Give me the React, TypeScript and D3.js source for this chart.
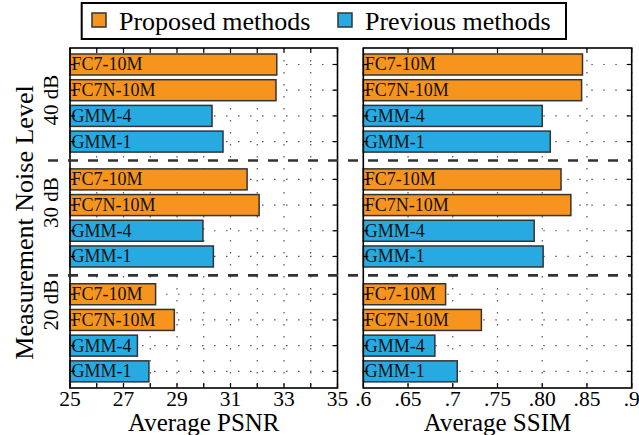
import React from "react";
import * as d3 from "d3";

// chart values
const noiseLevels = ["40 dB", "30 dB", "20 dB"];
const methods = ["FC7-10M", "FC7N-10M", "GMM-4", "GMM-1"];
const methodGroup = ["Proposed", "Proposed", "Previous", "Previous"];
const legendItems = ["Proposed methods", "Previous methods"];

// one row per noise level, in the order of `methods`
const psnrValues = [
  [32.73, 32.7, 30.31, 30.72],
  [31.62, 32.07, 29.97, 30.36],
  [28.2, 28.9, 27.52, 27.95],
];
const ssimValues = [
  [0.845, 0.844, 0.8, 0.809],
  [0.821, 0.832, 0.791, 0.801],
  [0.692, 0.732, 0.68, 0.705],
];

const psnrTicks = [25, 27, 29, 31, 33, 35];
const psnrMinor = d3.range(25, 36, 1);
const ssimTicks = [0.6, 0.65, 0.7, 0.75, 0.8, 0.85, 0.9];
const ssimTickLabels = [".6", ".65", ".7", ".75", ".80", ".85", ".9"];

const FONT = "'Liberation Serif', 'DejaVu Serif', serif";
const colors = { Proposed: "#F7941E", Previous: "#27AAE1" };
const W = 639;
const H = 435;
const TOP = 48;
const BOTTOM = 388;
const GROUP_STEP = 4.47;

// bar slot position -> pixel
const y = d3.scaleLinear().domain([-0.642, 12.588]).range([TOP, BOTTOM]);
const slot = (g: number, i: number) => g * GROUP_STEP + i;
const barH = y(0.817) - y(0);

type PanelProps = {
  x0: number;
  x1: number;
  domain: [number, number];
  values: number[][];
  ticks: number[];
  tickLabels: string[];
  minor: number[];
  title: string;
};

function Panel({ x0, x1, domain, values, ticks, tickLabels, minor, title }: PanelProps) {
  const x = d3.scaleLinear().domain(domain).range([x0, x1]);
  const rows = noiseLevels.flatMap((_, g) => methods.map((_, i) => slot(g, i)));
  return (
    <g>
      {/* dotted grid */}
      {minor.map((t) => (
        <line key={"v" + t} x1={x(t)} x2={x(t)} y1={TOP} y2={BOTTOM}
          stroke="#555" strokeWidth={1.2} strokeDasharray="1.5,10.5" />
      ))}
      {rows.map((r) => (
        <line key={"h" + r} x1={x0} x2={x1} y1={y(r)} y2={y(r)}
          stroke="#555" strokeWidth={1.2} strokeDasharray="1.5,10.5" />
      ))}
      {/* bars */}
      {values.map((row, g) =>
        row.map((v, i) => {
          const cy = y(slot(g, i));
          return (
            <g key={g + "-" + i}>
              <rect x={x(domain[0])} y={cy - barH / 2} width={x(v) - x(domain[0])} height={barH}
                fill={colors[methodGroup[i] as "Proposed" | "Previous"]} stroke="#333" strokeWidth={1.5} />
              <text x={x0 + 1.5} y={cy + 6} fontSize={18} fontFamily={FONT} fill="#111">
                {methods[i]}
              </text>
            </g>
          );
        })
      )}
      {/* ticks, inward on all four sides */}
      {minor.map((t) => (
        <g key={"t" + t}>
          <line x1={x(t)} x2={x(t)} y1={BOTTOM} y2={BOTTOM - 5} stroke="#000" strokeWidth={1.2} />
          <line x1={x(t)} x2={x(t)} y1={TOP} y2={TOP + 5} stroke="#000" strokeWidth={1.2} />
        </g>
      ))}
      {rows.map((r) => (
        <g key={"yt" + r}>
          <line x1={x0} x2={x0 + 5} y1={y(r)} y2={y(r)} stroke="#000" strokeWidth={1.2} />
          <line x1={x1} x2={x1 - 5} y1={y(r)} y2={y(r)} stroke="#000" strokeWidth={1.2} />
        </g>
      ))}
      <rect x={x0} y={TOP} width={x1 - x0} height={BOTTOM - TOP} fill="none" stroke="#000" strokeWidth={1.6} />
      {ticks.map((t, i) => (
        <text key={"l" + t} x={x(t)} y={406} textAnchor="middle" fontSize={21.5} fontFamily={FONT}>
          {tickLabels[i]}
        </text>
      ))}
      <text x={(x0 + x1) / 2} y={431} textAnchor="middle" fontSize={25} fontFamily={FONT}>
        {title}
      </text>
    </g>
  );
}

export default function App() {
  const leftX0 = 70;
  const leftX1 = 337.5;
  const rightX0 = 363.3;
  const rightX1 = 631.7;
  const dividers = [0, 1].map((g) => (y(slot(g, 3)) + y(slot(g + 1, 0))) / 2);
  const labelCenter = [100, 202.5, 305];
  return (
    <svg width={W} height={H} style={{ position: "absolute", left: 0, top: 0, background: "#fff" }}>
      <Panel x0={leftX0} x1={leftX1} domain={[25, 35]} values={psnrValues}
        ticks={psnrTicks} tickLabels={psnrTicks.map(String)} minor={psnrMinor} title="Average PSNR" />
      <Panel x0={rightX0} x1={rightX1} domain={[0.6, 0.9]} values={ssimValues}
        ticks={ssimTicks} tickLabels={ssimTickLabels} minor={ssimTicks} title="Average SSIM" />
      {dividers.map((d) => (
        <line key={d} x1={48} x2={rightX1} y1={d} y2={d} stroke="#333" strokeWidth={2.7} strokeDasharray="10,10" />
      ))}
      {/* y labels */}
      <text transform={`translate(33,222.5) rotate(-90)`} textAnchor="middle" fontSize={26} fontFamily={FONT}>
        Measurement Noise Level
      </text>
      {noiseLevels.map((n, g) => (
        <text key={n} transform={`translate(58,${labelCenter[g]}) rotate(-90)`} textAnchor="middle"
          fontSize={21} fontFamily={FONT}>
          {n}
        </text>
      ))}
      {/* legend */}
      <rect x={81.7} y={3} width={484.3} height={36} fill="#fff" stroke="#000" strokeWidth={2} />
      {legendItems.map((item, i) => {
        const lx = i === 0 ? 92 : 338;
        return (
          <g key={item}>
            <rect x={lx} y={13} width={14} height={14} fill={colors[i === 0 ? "Proposed" : "Previous"]}
              stroke="#333" strokeWidth={1.5} />
            <text x={lx + 27} y={30} fontSize={26} fontFamily={FONT}>
              {item}
            </text>
          </g>
        );
      })}
    </svg>
  );
}
